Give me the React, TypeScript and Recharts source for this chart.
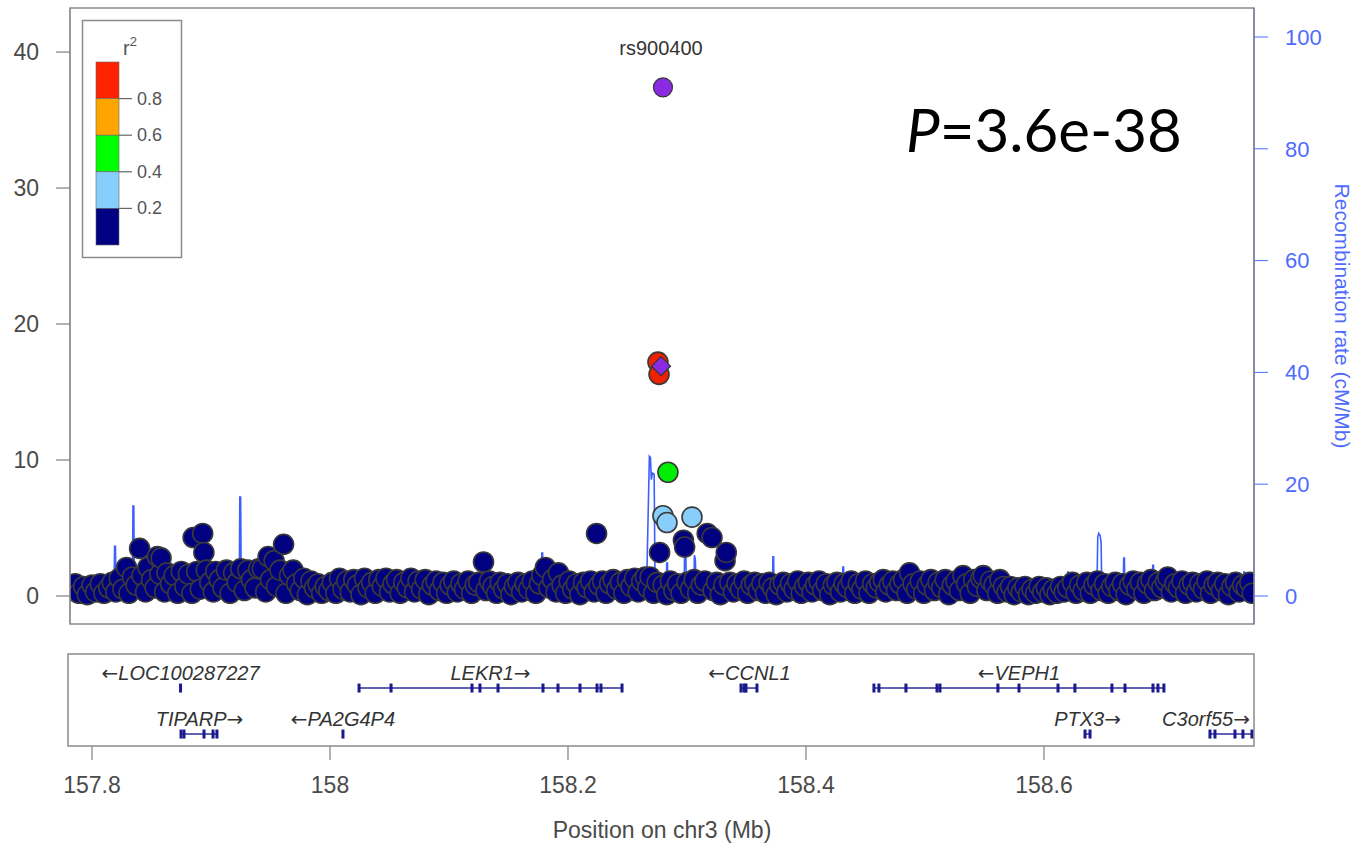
import React from 'react';
import { ComposedChart, Scatter, Line, XAxis, YAxis, ReferenceLine } from 'recharts';

// ---------- axes ----------
const X_DOMAIN: [number, number] = [157.7815, 158.7765];
const X_TICKS = [157.8, 158, 158.2, 158.4, 158.6];
const LOGP_DOMAIN: [number, number] = [-2.06, 43.24];
const LOGP_TICKS = [0, 10, 20, 30, 40];
const RATE_DOMAIN: [number, number] = [-5.01, 105.19];
const RATE_TICKS = [0, 20, 40, 60, 80, 100];

// ---------- association results: [position Mb, -log10 P] ----------
const NAVY: [number, number][] = [
  [157.783,0.4],[157.786,0.9],[157.789,0.2],[157.793,0.7],[157.796,0.1],[157.800,0.8],[157.803,0.3],[157.807,0.9],[157.810,0.2],[157.814,0.6],[157.817,1.0],[157.820,0.3],
  [157.823,1.3],[157.826,0.5],[157.829,2.1],[157.831,0.2],[157.834,1.4],[157.837,0.8],[157.840,3.5],[157.842,1.5],[157.845,0.3],[157.847,2.1],[157.850,1.2],[157.853,0.6],[157.855,2.9],[157.857,1.6],[157.858,2.8],[157.861,0.3],[157.863,1.7],[157.866,0.9],[157.869,1.5],[157.872,0.2],[157.875,1.8],[157.878,0.7],[157.881,1.6],[157.884,0.2],[157.885,4.3],[157.888,1.8],[157.891,0.5],[157.893,4.6],[157.894,3.2],[157.896,1.9],[157.899,1.0],[157.902,0.3],[157.904,1.8],[157.907,1.2],[157.910,0.6],[157.913,1.9],[157.916,0.2],[157.919,1.7],[157.922,1.0],[157.925,2.0],[157.928,0.4],[157.931,1.9],[157.934,1.2],[157.937,0.6],[157.940,2.0],[157.943,2.0],[157.946,0.3],
  [157.948,2.9],[157.950,1.2],[157.953,2.6],[157.955,0.7],[157.958,1.9],[157.961,3.8],[157.963,0.2],[157.966,1.5],[157.969,1.9],[157.972,0.9],[157.975,0.4],[157.978,1.3],[157.981,0.1],[157.984,1.1],[157.987,0.6],[157.990,0.9],[157.993,0.2],[157.996,0.7],[157.999,0.4],
  [158.002,1.0],[158.005,0.2],[158.008,1.3],[158.011,0.5],[158.014,1.1],[158.017,0.3],[158.020,1.2],[158.023,0.8],[158.026,0.1],[158.029,1.3],[158.032,0.6],[158.035,1.0],[158.038,0.2],[158.041,1.2],[158.044,0.7],[158.047,1.3],[158.050,0.3],[158.053,0.9],[158.056,1.2],[158.059,0.2],[158.062,1.0],[158.065,0.6],[158.068,1.3],[158.071,0.3],[158.074,1.1],[158.077,0.5],[158.080,1.2],[158.083,0.1],[158.086,0.8],[158.089,1.1],
  [158.092,0.4],[158.095,1.0],[158.098,0.2],[158.101,0.8],[158.104,1.1],[158.107,0.3],[158.110,0.9],[158.113,0.5],[158.116,1.1],[158.119,0.2],[158.122,0.8],[158.125,1.0],[158.129,2.5],[158.131,0.4],[158.134,1.1],[158.137,0.7],[158.140,0.2],[158.143,1.0],[158.146,0.5],[158.149,0.9],[158.152,0.1],[158.155,0.7],[158.158,1.0],[158.161,0.3],[158.164,0.9],[158.167,0.5],[158.170,1.1],[158.173,0.2],[158.176,0.9],[158.178,1.5],[158.181,2.1],[158.184,0.6],[158.187,1.2],[158.190,0.3],[158.192,1.7],[158.195,0.8],[158.198,0.2],[158.201,1.1],[158.204,0.5],[158.207,0.9],[158.210,0.1],[158.213,1.0],[158.216,0.6],[158.219,1.1],[158.222,0.3],[158.224,4.6],[158.226,0.8],[158.229,1.1],[158.232,0.2],[158.235,0.9],[158.238,1.2],[158.241,0.5],[158.244,1.0],[158.247,0.2],[158.250,1.2],[158.253,0.7],[158.256,1.3],[158.259,0.3],[158.262,1.1],[158.265,1.4],[158.267,0.6],[158.269,1.4],
  [158.272,0.2],[158.275,1.0],[158.277,3.2],[158.280,0.8],[158.283,0.1],[158.286,1.1],[158.289,0.4],[158.292,0.9],[158.295,0.2],[158.297,4.1],[158.298,3.6],[158.300,1.0],[158.303,0.5],[158.306,1.2],[158.309,0.2],[158.312,0.8],[158.315,1.1],[158.317,4.6],[158.321,4.3],[158.322,0.4],[158.325,1.0],[158.328,0.1],[158.331,0.8],[158.332,2.6],[158.333,3.2],[158.336,1.0],[158.339,0.3],[158.342,0.9],[158.345,0.5],[158.348,1.1],[158.351,0.2],[158.354,0.8],[158.357,1.0],[158.360,0.4],
  [158.363,0.9],[158.366,0.2],[158.369,1.0],[158.372,0.6],[158.375,0.1],[158.378,0.8],[158.381,1.0],[158.384,0.3],[158.387,0.9],[158.390,0.5],[158.393,1.1],[158.396,0.2],[158.399,0.7],[158.402,1.0],[158.405,0.3],[158.408,0.8],[158.411,1.1],[158.414,0.4],[158.417,0.9],[158.420,0.1],[158.423,0.8],[158.426,1.0],[158.429,0.3],[158.432,0.9],[158.435,0.6],[158.438,1.1],[158.441,0.2],[158.444,0.9],[158.447,0.5],
  [158.450,1.1],[158.453,0.2],[158.456,0.9],[158.459,0.6],[158.462,1.0],[158.465,1.2],[158.467,0.3],[158.470,0.8],[158.473,1.1],[158.476,0.4],[158.479,0.9],[158.482,1.2],[158.485,0.2],[158.487,1.7],[158.490,0.9],[158.493,0.5],[158.496,1.1],[158.499,0.2],[158.502,0.8],[158.505,1.2],[158.508,0.4],[158.511,1.0],[158.514,0.6],[158.517,1.2],[158.520,0.1],[158.523,0.8],[158.526,1.1],[158.529,0.4],[158.532,1.5],[158.535,0.9],[158.538,0.2],[158.541,1.2],[158.544,0.7],[158.547,1.3],[158.549,1.5],[158.552,0.4],[158.555,1.1],[158.558,0.8],[158.561,0.2],[158.563,1.2],[158.566,0.7],[158.569,0.3],
  [158.572,0.7],[158.575,0.1],[158.578,0.6],[158.581,0.3],[158.584,0.7],[158.587,0.1],[158.590,0.5],[158.593,0.2],[158.596,0.7],[158.599,0.3],[158.602,0.6],[158.605,0.1],[158.608,0.5],[158.611,0.2],[158.614,0.7],[158.617,0.3],[158.620,0.6],[158.624,1.0],[158.627,0.2],[158.630,0.8],
  [158.633,0.4],[158.636,1.0],[158.639,0.2],[158.642,0.8],[158.645,1.1],[158.648,0.4],[158.651,0.9],[158.654,0.2],[158.657,0.7],[158.660,1.0],[158.663,0.4],[158.666,0.9],[158.669,0.1],[158.672,0.8],[158.675,1.1],[158.678,0.5],[158.681,1.0],[158.684,0.2],[158.687,0.9],[158.690,1.2],[158.693,0.4],[158.696,1.0],[158.699,0.6],[158.702,1.1],[158.704,1.4],[158.707,0.3],[158.710,0.9],[158.713,0.6],[158.716,1.1],[158.719,0.2],[158.722,0.8],[158.725,1.0],[158.728,0.3],[158.731,0.9],[158.734,0.5],[158.737,1.1],[158.740,0.2],[158.743,0.8],[158.746,1.0],[158.749,0.4],[158.752,0.9],[158.755,0.1],[158.758,0.7],[158.761,1.0],[158.764,0.3],[158.767,0.8],[158.770,0.6],[158.773,1.0],[158.775,0.2],
];
const LIGHTBLUE: [number, number][] = [[158.2798,5.9],[158.2832,5.4],[158.3042,5.8]];
const GREEN: [number, number][] = [[158.2840,9.1]];
const RED: [number, number][] = [[158.2756,17.2],[158.2765,16.3]];
const PURPLE_DIAMOND: [number, number][] = [[158.2782,16.9]];
const TOP_SNP: [number, number][] = [[158.2798,37.4]];
const TOP_SNP_NAME = 'rs900400';
const P_VALUE_TEXT = '=3.6e-38';

// ---------- recombination rate: [position Mb, cM/Mb] ----------
const RECOMB: [number, number][] = [
  [157.7815,0.5],[157.800,0.7],[157.8185,0.9],[157.8190,8.9],[157.8197,8.9],[157.8202,1.1],
  [157.8340,1.3],[157.8344,16.1],[157.8351,16.1],[157.8356,1.6],
  [157.850,1.9],[157.870,2.1],[157.900,2.4],[157.9238,2.6],[157.9242,17.7],[157.9249,17.7],[157.9254,1.8],
  [157.940,1.2],[157.970,0.8],[158.000,0.6],[158.050,0.5],[158.100,0.7],[158.150,0.9],
  [158.1776,1.0],[158.1780,7.7],[158.1787,7.7],[158.1791,0.9],
  [158.220,0.7],[158.2660,1.0],[158.2684,25.0],[158.2693,24.8],[158.2700,20.8],[158.2710,22.0],[158.2724,21.8],[158.2732,0.6],
  [158.2800,0.5],[158.2826,0.6],[158.2830,5.9],[158.2836,5.9],[158.2840,0.7],
  [158.2975,0.9],[158.2980,7.7],[158.2990,7.5],[158.2996,1.0],
  [158.3058,1.1],[158.3062,7.3],[158.3070,6.6],[158.3078,1.0],
  [158.330,0.8],[158.3718,0.6],[158.3722,7.0],[158.3728,7.0],[158.3732,0.6],
  [158.400,0.5],[158.4306,0.6],[158.4310,5.2],[158.4316,5.2],[158.4320,0.7],
  [158.480,0.9],[158.530,1.0],[158.580,0.8],[158.6196,0.9],[158.6200,4.3],[158.6206,4.3],[158.6210,1.0],
  [158.6445,1.2],[158.6452,10.6],[158.6460,11.2],[158.6472,10.8],[158.6480,9.6],[158.6486,1.4],
  [158.6666,1.1],[158.6670,6.8],[158.6676,6.8],[158.6680,1.0],
  [158.6910,0.9],[158.6914,5.5],[158.6920,5.5],[158.6924,0.8],
  [158.730,0.7],[158.7676,0.8],[158.7680,4.3],[158.7686,4.3],[158.7690,0.8],[158.7765,0.7],
];

// ---------- genes ----------
const GENE_NAMES = ['LOC100287227','LEKR1','CCNL1','VEPH1','TIPARP','PA2G4P4','PTX3','C3orf55'];
const GENE_STRANDS = ['-','+','-','-','+','-','+','+'];
const GENE_ROWS = [1,1,1,1,2,2,2,2];
const GENE_STARTS = [157.8740,158.0244,158.3454,158.4571,157.8748,158.0105,158.6345,158.7395];
const GENE_ENDS = [157.8748,158.2454,158.3597,158.7008,157.9059,158.0112,158.6387,158.7760];
const GENE_EXONS: number[][] = [
  [157.8744],
  [158.0244,158.0513,158.1193,158.1260,158.1412,158.1790,158.1916,158.2101,158.2244,158.2277,158.2454],
  [158.3454,158.3480,158.3496,158.3588],
  [158.4571,158.4613,158.4840,158.5101,158.5126,158.5613,158.5790,158.6118,158.6260,158.6571,158.6681,158.6916,158.6958,158.7008],
  [157.8748,157.8773,157.8941,157.9017,157.9050],
  [158.0109],
  [158.6345,158.6387],
  [158.7395,158.7437,158.7605,158.7672,158.7748],
];

// ---------- LD legend ----------
const LD_BREAKS = ['0.8','0.6','0.4','0.2'];
const LD_COLORS = ['#ff2200','#ffa500','#00ff00','#87cefa','#000080'];

const FONT = '"Liberation Sans", Arial, Helvetica, sans-serif';
const ARROW_FONT = '"DejaVu Sans", sans-serif';
const AXIS_GREY = '#4a4a4a';
const BLUE = '#4f6bff';

const toPts = (arr: [number, number][]) => arr.map(([pos, logp]) => ({ pos, logp }));
const recombData = RECOMB.map(([pos, rate]) => ({ pos, rate }));

const circleShape = (fill: string) => (props: any) => (
  <circle cx={props.cx} cy={props.cy} r={10} fill={fill} stroke="#3a3a3a" strokeWidth={1.6} />
);
const diamondShape = (props: any) => {
  const { cx, cy } = props;
  const d = 9.5;
  return <polygon points={`${cx},${cy - d} ${cx + d},${cy} ${cx},${cy + d} ${cx - d},${cy}`} fill="#8a2be2" stroke="#353535" strokeWidth={1.2} />;
};
const topShape = (props: any) => (
  <g>
    <circle cx={props.cx} cy={props.cy} r={9.5} fill="#8a2be2" stroke="#353535" strokeWidth={1.2} />
    <text x={props.cx - 2} y={props.cy - 32} textAnchor="middle" fontSize={20} fill="#333" fontFamily={FONT}>{TOP_SNP_NAME}</text>
  </g>
);

const exonData = GENE_EXONS.flatMap((ex, i) => ex.map((pos) => ({ pos, row: GENE_ROWS[i] })));
const labelData = GENE_NAMES.map((name, i) => ({
  pos: (GENE_STARTS[i] + GENE_ENDS[i]) / 2,
  row: GENE_ROWS[i],
  name,
  strand: GENE_STRANDS[i],
}));

const exonShape = (props: any) => (
  <rect x={props.cx - 1.5} y={props.cy - 4.5} width={3} height={9} fill="#1a1a8c" />
);
const geneLabelShape = (props: any) => {
  const { cx, cy, payload } = props;
  const w = payload.name.length * 11.2 + 20;
  let x = cx;
  let anchor: any = 'middle';
  if (cx + w / 2 > 1250) { x = 1250; anchor = 'end'; }
  const arrow = <tspan fontFamily={ARROW_FONT} fontStyle="normal" fill="#333">{payload.strand === '+' ? '\u2192' : '\u2190'}</tspan>;
  return (
    <text x={x} y={cy - 8} textAnchor={anchor} fontSize={20} fontStyle="italic" fill="#333" fontFamily={FONT}>
      {payload.strand === '-' && arrow}
      <tspan>{payload.name}</tspan>
      {payload.strand === '+' && arrow}
    </text>
  );
};

const RecombLabel = (p: any) => {
  const vb = p.viewBox || { x: 1254, y: 8, width: 118, height: 616 };
  const x = vb.x + 88;
  const y = vb.y + vb.height / 2;
  return (
    <text x={x} y={y} transform={`rotate(90 ${x} ${y})`} textAnchor="middle" dominantBaseline="central" fontSize={21} fill={BLUE} fontFamily={FONT}>
      Recombination rate (cM/Mb)
    </text>
  );
};

export default function App() {
  return (
    <div style={{ position: 'absolute', left: 0, top: 0, width: 1372, height: 848, background: '#fff', fontFamily: FONT }}>
      <div style={{ position: 'absolute', left: 0, top: 0 }}>
        <ComposedChart width={1372} height={640} margin={{ top: 8, right: 0, bottom: 16, left: 0 }}>
          <XAxis type="number" dataKey="pos" domain={X_DOMAIN} allowDataOverflow hide />
          <YAxis
            yAxisId="p" type="number" dataKey="logp" domain={LOGP_DOMAIN} ticks={LOGP_TICKS} allowDataOverflow interval={0}
            width={70} tickSize={14} tickMargin={17}
            axisLine={{ stroke: '#8a8a8a' }} tickLine={{ stroke: '#666' }}
            tick={{ fill: AXIS_GREY, fontSize: 23, fontFamily: FONT }}
          />
          <YAxis
            yAxisId="r" orientation="right" type="number" dataKey="rate" domain={RATE_DOMAIN} ticks={RATE_TICKS} allowDataOverflow interval={0}
            width={118} tickSize={14} tickMargin={17}
            axisLine={{ stroke: BLUE, strokeWidth: 1.5 }} tickLine={{ stroke: BLUE }}
            tick={{ fill: BLUE, fontSize: 22, fontFamily: FONT }}
            label={{ content: RecombLabel } as any}
          />
          <Line yAxisId="r" data={recombData} dataKey="rate" type="linear" stroke="#3d5fff" strokeWidth={1.6} dot={false} isAnimationActive={false} />
          <Scatter yAxisId="p" data={toPts(NAVY)} shape={circleShape('#000080')} isAnimationActive={false} />
          <Scatter yAxisId="p" data={toPts(LIGHTBLUE)} shape={circleShape('#87cefa')} isAnimationActive={false} />
          <Scatter yAxisId="p" data={toPts(GREEN)} shape={circleShape('#00ee00')} isAnimationActive={false} />
          <Scatter yAxisId="p" data={toPts(RED)} shape={circleShape('#ee2200')} isAnimationActive={false} />
          <Scatter yAxisId="p" data={toPts(PURPLE_DIAMOND)} shape={diamondShape} isAnimationActive={false} />
          <Scatter yAxisId="p" data={toPts(TOP_SNP)} shape={topShape} isAnimationActive={false} />
        </ComposedChart>
      </div>

      <div style={{ position: 'absolute', left: 0, top: 646 }}>
        <ComposedChart width={1372} height={202} margin={{ top: 8, right: 118, bottom: 0, left: 70 }}>
          <XAxis
            type="number" dataKey="pos" domain={X_DOMAIN} allowDataOverflow ticks={X_TICKS} interval={0}
            height={102} tickSize={14} tickMargin={17} axisLine={false}
            tickLine={{ stroke: '#666' }} tick={{ fill: AXIS_GREY, fontSize: 23, fontFamily: FONT }}
            label={{ value: 'Position on chr3 (Mb)', position: 'insideBottom', offset: 10, fill: AXIS_GREY, fontSize: 23, fontFamily: FONT }}
          />
          <YAxis type="number" dataKey="row" domain={[0.26, 2.26]} reversed hide />
          {GENE_NAMES.map((name, i) => (
            <ReferenceLine
              key={name}
              segment={[{ x: GENE_STARTS[i], y: GENE_ROWS[i] }, { x: GENE_ENDS[i], y: GENE_ROWS[i] }]}
              stroke="#2c2c9c" strokeWidth={1.5} ifOverflow="visible"
            />
          ))}
          <Scatter data={exonData} shape={exonShape} isAnimationActive={false} />
          <Scatter data={labelData} shape={geneLabelShape} isAnimationActive={false} />
        </ComposedChart>
      </div>

      <svg width={1372} height={848} style={{ position: 'absolute', left: 0, top: 0, pointerEvents: 'none' }}>
        <rect x={70} y={8} width={1184} height={616} fill="none" stroke="#8a8a8a" strokeWidth={1.5} />
        <rect x={68} y={654} width={1186} height={92} fill="none" stroke="#8a8a8a" strokeWidth={1.5} />
        <g transform="translate(82,20)">
          <rect x={0.5} y={0.5} width={99} height={237} fill="#fff" stroke="#8a8a8a" strokeWidth={1.5} />
          <text x={41} y={35} fontSize={20} fill="#555" fontFamily={FONT}>r<tspan dy={-9} fontSize={13}>2</tspan></text>
          {LD_COLORS.map((c, i) => (
            <rect key={c} x={14} y={42 + i * 36.6} width={23} height={36.6} fill={c} stroke="#666" strokeWidth={0.6} />
          ))}
          {LD_BREAKS.map((b, i) => (
            <g key={b}>
              <line x1={37} x2={50} y1={42 + (i + 1) * 36.6} y2={42 + (i + 1) * 36.6} stroke="#666" strokeWidth={1.2} />
              <text x={55} y={42 + (i + 1) * 36.6} dominantBaseline="central" fontSize={18} fill="#555" fontFamily={FONT}>{b}</text>
            </g>
          ))}
        </g>
        <text x={906} y={152} fontSize={60} fill="#000" fontFamily='Lato, "Open Sans", sans-serif'>
          <tspan fontStyle="italic">P</tspan>{P_VALUE_TEXT}
        </text>
      </svg>
    </div>
  );
}
